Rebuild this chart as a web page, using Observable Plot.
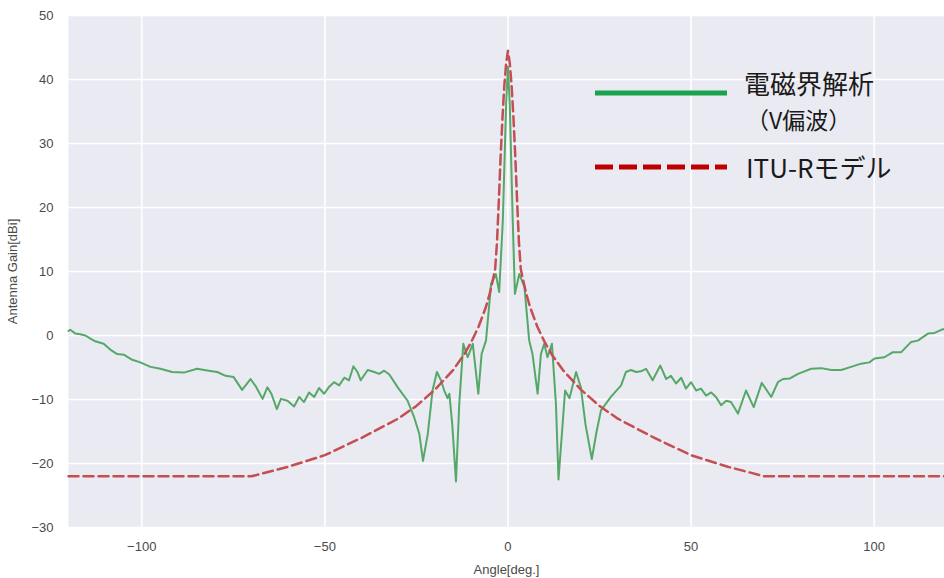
<!DOCTYPE html>
<html>
<head>
<meta charset="utf-8">
<script src="https://cdn.jsdelivr.net/npm/d3@7"></script>
<script src="https://cdn.jsdelivr.net/npm/@observablehq/plot@0.6"></script>
<style>
  html, body { margin: 0; padding: 0; background: #ffffff; }
  #wrap { position: relative; width: 944px; height: 578px; overflow: hidden; }
  .lg-text { position: absolute; font-family: "Noto Sans CJK JP", sans-serif; color: #1a1a1a; white-space: nowrap; line-height: 1; }
  #legend-svg { position: absolute; left: 0; top: 0; }
</style>
</head>
<body>
<div id="wrap"></div>
<script>
// ---- data ----
const xTicks = [-100, -50, 0, 50, 100];
const yTicks = [-30, -20, -10, 0, 10, 20, 30, 40, 50];

const seriesNames = ["電磁界解析（V偏波）", "ITU-Rモデル"];
const legendLine1 = "電磁界解析";
const legendLine2 = "（V偏波）";
const legendLine3 = "ITU-Rモデル";

// Electromagnetic analysis (V polarisation): angle [deg], gain [dBi]
const emAngle = [
  -120, -119.5, -118.1, -116.8, -115.4, -114, -112.7, -110.4, -108.6, -106.7,
  -104.9, -102.6, -100.4, -97.6, -94.9, -91.7, -88.5, -84.9, -81.7, -79.4,
  -77.1, -74.9, -72.6, -70.3, -68.8, -67.0, -65.7, -64.6, -63.1, -62.0,
  -60.2, -58.4, -57.0, -55.7, -54.3, -52.9, -51.6, -50.2, -48.8, -47.5,
  -46.1, -44.7, -43.4, -42.2, -41.1, -40.2, -38.3, -36.5, -35.2, -33.8,
  -32.4, -30.1, -27.4, -25.6, -24.2, -23.2, -21.9, -20.6, -19.4, -18.3,
  -17.4, -16.5, -16.0, -15.2, -14.2, -13.3, -12.2, -11.0, -9.6, -8.1,
  -7.2, -6.0, -4.6, -3.3, -2.4, -1.4, -0.5, 0,
  0.5, 1.3, 1.9, 3.1, 4.5, 5.8, 6.7, 8.1, 9.0, 9.9,
  10.8, 12.0, 13.1, 13.8, 15.6, 16.8, 18.6, 19.9, 21.2, 22.9,
  24.2, 25.4, 28.1, 30.9, 32.2, 33.6, 35.0, 36.3, 37.7, 39.5,
  41.6, 43.2, 44.5, 45.9, 47.3, 48.6, 50.0, 51.4, 52.7, 54.1,
  55.5, 56.8, 58.2, 59.6, 60.9, 62.8, 65.0, 67.1, 69.3, 71.9,
  73.7, 75.1, 77.0, 79.2, 82.8, 85.5, 88.3, 91.0, 93.7, 96.4,
  98.7, 100.1, 102.8, 105.1, 107.4, 110.1, 111.9, 114.7, 116.5, 118.8, 120
];
const emGain = [
  0.7, 0.9, 0.3, 0.2, 0.0, -0.5, -0.9, -1.3, -2.2, -2.9,
  -3.0, -3.8, -4.2, -4.9, -5.2, -5.7, -5.8, -5.2, -5.5, -5.7,
  -6.3, -6.5, -8.5, -6.8, -8.0, -9.9, -8.1, -9.1, -11.5, -9.9,
  -10.2, -11.1, -9.6, -10.4, -8.9, -9.6, -8.2, -9.1, -8.0, -7.3,
  -7.8, -6.6, -7.0, -4.8, -5.7, -7.0, -5.4, -5.7, -6.0, -5.5,
  -6.1, -8.1, -10.2, -12.8, -15.4, -19.6, -15.4, -8.6, -5.7, -7.0,
  -8.6, -9.8, -9.1, -14.0, -22.8, -10.7, -1.3, -3.4, -1.3, -9.1,
  -2.9, -0.8, 8.1, 9.6, 6.8, 18.0, 36.2, 42.0,
  36.0, 18.0, 6.5, 9.6, 7.6, -0.8, -2.9, -9.1, -2.9, -1.3,
  -3.4, -1.3, -10.7, -22.5, -8.6, -9.8, -5.7, -8.1, -14.0, -19.3,
  -15.0, -11.7, -9.6, -7.8, -5.7, -5.4, -5.7, -5.6, -5.2, -7.0,
  -4.7, -6.8, -6.3, -7.5, -6.6, -8.3, -7.3, -8.6, -8.3, -9.4,
  -8.9, -9.6, -10.9, -10.2, -10.4, -12.2, -8.6, -11.2, -7.4, -9.6,
  -7.3, -6.8, -6.7, -6.0, -5.2, -5.1, -5.4, -5.4, -4.9, -4.4,
  -4.2, -3.6, -3.4, -2.6, -2.6, -1.0, -0.8, 0.3, 0.4, 1.0, 0.8
];

// ITU-R model: angle [deg], gain [dBi]
const ituAngle = [
  -120, -70, -60, -50, -40, -30, -25, -20, -15, -12, -10, -8, -6, -5, -4, -3.5,
  -3, -2.5, -2, -1.5, -1, -0.5, 0, 0.5, 1, 1.5, 2, 2.5, 3,
  3.5, 4, 5, 6, 8, 10, 12, 15, 20, 25, 30, 40, 50, 60, 70, 120
];
const ituGain = [
  -22, -22, -20.5, -18.7, -16.0, -13.0, -11.0, -8.5, -5.4, -3.0, -1.0, 1.4, 4.5, 6.5, 9.0, 10.4,
  14.5, 21.0, 28.0, 34.0, 39.0, 42.5, 44.5, 42.5, 39.0, 34.0, 28.0, 21.0, 14.5,
  10.4, 9.0, 6.5, 4.5, 1.4, -1.0, -3.0, -5.4, -8.5, -11.0, -13.0, -16.0, -18.7, -20.5, -22, -22
];

const emData = emAngle.map((a, i) => ({angle: a, gain: emGain[i], series: seriesNames[0]}));
const ituData = ituAngle.map((a, i) => ({angle: a, gain: ituGain[i], series: seriesNames[1]}));

// ---- chart ----
const chart = Plot.plot({
  width: 944,
  height: 578,
  marginLeft: 68,
  marginRight: 0,
  marginTop: 15,
  marginBottom: 51,
  style: {fontFamily: "'Liberation Sans', Arial, sans-serif", fontSize: "13px", color: "#4a4a4a", background: "#ffffff"},
  x: {domain: [-120, 119.2]},
  y: {domain: [-30, 50]},
  marks: [
    Plot.frame({fill: "#EAEAF2", stroke: null}),
    Plot.gridX(xTicks, {stroke: "#ffffff", strokeOpacity: 1, strokeWidth: 1.6}),
    Plot.gridY(yTicks, {stroke: "#ffffff", strokeOpacity: 1, strokeWidth: 1.6}),
    Plot.axisX(xTicks, {tickSize: 0, tickPadding: 14, label: "Angle[deg.]", labelAnchor: "center", labelArrow: "none", labelOffset: 46}),
    Plot.axisY(yTicks, {tickSize: 0, tickPadding: 15, label: "Antenna Gain[dBi]", labelAnchor: "center", labelArrow: "none", labelOffset: 61}),
    Plot.line(emData, {x: "angle", y: "gain", stroke: "#55A868", strokeWidth: 2}),
    Plot.line(ituData, {x: "angle", y: "gain", stroke: "#C44E52", strokeWidth: 2.5, strokeDasharray: "10,5"})
  ]
});

const wrap = document.getElementById("wrap");
wrap.appendChild(chart);

// ---- legend (overlaid inside the plot area, top right) ----
const ns = "http://www.w3.org/2000/svg";
const lsvg = document.createElementNS(ns, "svg");
lsvg.setAttribute("id", "legend-svg");
lsvg.setAttribute("width", 944);
lsvg.setAttribute("height", 578);
const l1 = document.createElementNS(ns, "line");
l1.setAttribute("x1", 595); l1.setAttribute("x2", 727);
l1.setAttribute("y1", 93); l1.setAttribute("y2", 93);
l1.setAttribute("stroke", "#1BA24C"); l1.setAttribute("stroke-width", 5);
lsvg.appendChild(l1);
const l2 = document.createElementNS(ns, "line");
l2.setAttribute("x1", 595); l2.setAttribute("x2", 727);
l2.setAttribute("y1", 167); l2.setAttribute("y2", 167);
l2.setAttribute("stroke", "#C00000"); l2.setAttribute("stroke-width", 5);
l2.setAttribute("stroke-dasharray", "18,6");
lsvg.appendChild(l2);
wrap.appendChild(lsvg);

function addText(str, left, centerY, size) {
  const d = document.createElement("div");
  d.className = "lg-text";
  d.textContent = str;
  d.style.left = left + "px";
  d.style.top = (centerY - size / 2) + "px";
  d.style.fontSize = size + "px";
  d.style.height = size + "px";
  wrap.appendChild(d);
}
addText(legendLine1, 744, 83, 26);
addText(legendLine2, 746, 119, 23);
addText(legendLine3, 746, 167, 26);
</script>
</body>
</html>
